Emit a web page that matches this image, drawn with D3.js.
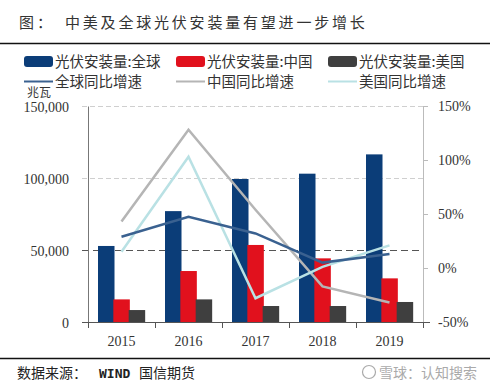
<!DOCTYPE html>
<html>
<head>
<meta charset="utf-8">
<script src="https://cdn.jsdelivr.net/npm/d3@7"></script>
<style>
  body { margin: 0; background: #fff; }
  svg { display: block; }
</style>
</head>
<body>
<svg id="chart" width="494" height="388"></svg>
<script>
// data
let years = ["2015", "2016", "2017", "2018", "2019"]
let globalMW = [52800, 77000, 99300, 103000, 116400]
let chinaMW = [15700, 35400, 53500, 44200, 30300]
let usMW = [8300, 15700, 11100, 11100, 13900]
let globalYoy = [29, 47.5, 32, 5, 13]
let chinaYoy = [43, 128, 54, -17, -32]
let usYoy = [15, 103, -28, 1, 21]
let leftTicks = [0, 50000, 100000, 150000]
let rightTicks = [-50, 0, 50, 100, 150]

let barNames = ["光伏安装量:全球", "光伏安装量:中国", "光伏安装量:美国"]
let lineNames = ["全球同比增速", "中国同比增速", "美国同比增速"]
let barColors = ["#0b3d78", "#e1111d", "#3f3f3f"]
let lineColors = ["#3a6190", "#b5b5b5", "#b9e1e4"]

let svg = d3.select("#chart")
let serif = "'Liberation Serif', 'DejaVu Serif', serif"
let cjk = "'Noto Sans CJK SC', sans-serif"

let plotVars = ({ left: 88, right: 423, top: 106, bottom: 322 })

// title and rules
svg.append("text").attr("x", 19).attr("y", 28).text("图：")
    .style("font-family", cjk).style("font-size", "15px").style("fill", "#333")
    .style("letter-spacing", "3px")
svg.append("text").attr("x", 65).attr("y", 28).text("中美及全球光伏安装量有望进一步增长")
    .style("font-family", cjk).style("font-size", "15px").style("fill", "#333")
    .style("letter-spacing", "2.8px")
svg.append("line").attr("x1", 0).attr("x2", 490).attr("y1", 43.5).attr("y2", 43.5)
    .attr("stroke", "#111").attr("stroke-width", 1.5)
svg.append("line").attr("x1", 0).attr("x2", 490).attr("y1", 358.5).attr("y2", 358.5)
    .attr("stroke", "#111").attr("stroke-width", 1.5)

// legend
let legendX = [24, 176, 328]
barNames.forEach(function (n, i) {
    svg.append("rect").attr("x", legendX[i]).attr("y", 56).attr("width", 29).attr("height", 11)
        .attr("rx", 3).style("fill", barColors[i])
    svg.append("text").attr("x", legendX[i] + 31).attr("y", 66.5).text(n)
        .style("font-family", cjk).style("font-size", "14.5px").style("fill", "#333")
})
lineNames.forEach(function (n, i) {
    svg.append("line").attr("x1", legendX[i]).attr("x2", legendX[i] + 29).attr("y1", 81.5).attr("y2", 81.5)
        .attr("stroke", lineColors[i]).attr("stroke-width", 2)
    svg.append("text").attr("x", legendX[i] + 31).attr("y", 87).text(n)
        .style("font-family", cjk).style("font-size", "14.5px").style("fill", "#333")
})
svg.append("text").attr("x", 27).attr("y", 97).text("兆瓦")
    .style("font-family", cjk).style("font-size", "12px").style("fill", "#333")

// scales
let xScale = d3.scaleBand().domain(years).range([plotVars.left, plotVars.right])
let xInner = d3.scaleBand().domain([0, 1, 2]).range([10, 56])
let yLeft = d3.scaleLinear().domain([0, 150000]).range([plotVars.bottom, plotVars.top])
let yRight = d3.scaleLinear().domain([-50, 150]).range([plotVars.bottom, plotVars.top])

// gridlines
let grid = svg.append("g")
leftTicks.slice(1).forEach(function (t) {
    grid.append("line").attr("x1", 82).attr("x2", plotVars.right)
        .attr("y1", Math.round(yLeft(t)) + 0.5).attr("y2", Math.round(yLeft(t)) + 0.5)
        .attr("stroke", t == 50000 ? "#555" : "#cfcfcf")
        .attr("stroke-dasharray", t == 50000 ? "7,4" : "5,3")
        .attr("stroke-width", 1)
})

// left axis
let leftAxis = svg.append("g").attr("transform", "translate(" + plotVars.left + ",0)")
    .call(d3.axisLeft(yLeft).tickValues(leftTicks).tickSize(0).tickPadding(19)
        .tickFormat(d3.format(",")))
leftAxis.select(".domain").attr("stroke", "#777")
leftAxis.selectAll("text").style("font-family", serif).style("font-size", "14px").style("fill", "#333")
    .attr("dy", "0.38em")

// right axis
let rightAxis = svg.append("g").attr("transform", "translate(" + plotVars.right + ",0)")
    .call(d3.axisRight(yRight).tickValues(rightTicks).tickSize(5).tickSizeOuter(0).tickPadding(10)
        .tickFormat(function (d) { return d + "%" }))
rightAxis.select(".domain").attr("stroke", "#bbb")
rightAxis.selectAll(".tick line").attr("stroke", "#bbb")
rightAxis.selectAll("text").style("font-family", serif).style("font-size", "14px").style("fill", "#333")

// bars
let barData = [globalMW, chinaMW, usMW]
barData.forEach(function (vals, s) {
    svg.selectAll(".bar" + s)
        .data(vals)
        .enter()
        .append("rect")
        .attr("class", "bar" + s)
        .attr("x", function (d, i) { return xScale(years[i]) + xInner(s) })
        .attr("width", 16.5)
        .attr("y", function (d) { return yLeft(d) })
        .attr("height", function (d) { return yLeft(0) - yLeft(d) })
        .style("fill", barColors[s])
})

// bottom axis
let bottomAxis = svg.append("g").attr("transform", "translate(0," + plotVars.bottom + ")")
    .call(d3.axisBottom(xScale).tickSize(0).tickPadding(14))
bottomAxis.select(".domain").remove()
bottomAxis.selectAll("text").style("font-family", serif).style("font-size", "14px").style("fill", "#333")
svg.append("line").attr("x1", 82).attr("x2", 430).attr("y1", plotVars.bottom + 0.5).attr("y2", plotVars.bottom + 0.5)
    .attr("stroke", "#555")
let edges = years.map(function (y) { return xScale(y) }).concat([plotVars.right])
svg.selectAll(".xtick").data(edges).enter().append("line")
    .attr("x1", function (d) { return Math.round(d) + 0.5 })
    .attr("x2", function (d) { return Math.round(d) + 0.5 })
    .attr("y1", plotVars.bottom).attr("y2", plotVars.bottom + 6)
    .attr("stroke", "#555")

// yoy lines
let line = d3.line()
    .x(function (d, i) { return xScale(years[i]) + xScale.bandwidth() / 2 })
    .y(function (d) { return yRight(d) })
let lineData = [chinaYoy, usYoy, globalYoy]
let lineIdx = [1, 2, 0]
lineData.forEach(function (vals, k) {
    svg.append("path").datum(vals).attr("d", line)
        .attr("fill", "none")
        .attr("stroke", lineColors[lineIdx[k]])
        .attr("stroke-width", 2.5)
})

// footer
svg.append("text").attr("x", 17).attr("y", 378).text("数据来源：")
    .style("font-family", cjk).style("font-size", "14px").style("fill", "#222")
svg.append("text").attr("x", 99).attr("y", 378).text("WIND")
    .style("font-family", "'DejaVu Sans Mono', monospace").style("font-size", "13px").style("fill", "#222")
    .style("font-weight", "bold")
svg.append("text").attr("x", 139).attr("y", 378).text("国信期货")
    .style("font-family", cjk).style("font-size", "14px").style("fill", "#222")
svg.append("circle").attr("cx", 369).attr("cy", 372).attr("r", 6.5)
    .attr("fill", "none").attr("stroke", "#aaa").attr("stroke-width", 1.2)
svg.append("text").attr("x", 379).attr("y", 378).text("雪球：认知搜索")
    .style("font-family", cjk).style("font-size", "14px").style("fill", "#aaa")
</script>
</body>
</html>
